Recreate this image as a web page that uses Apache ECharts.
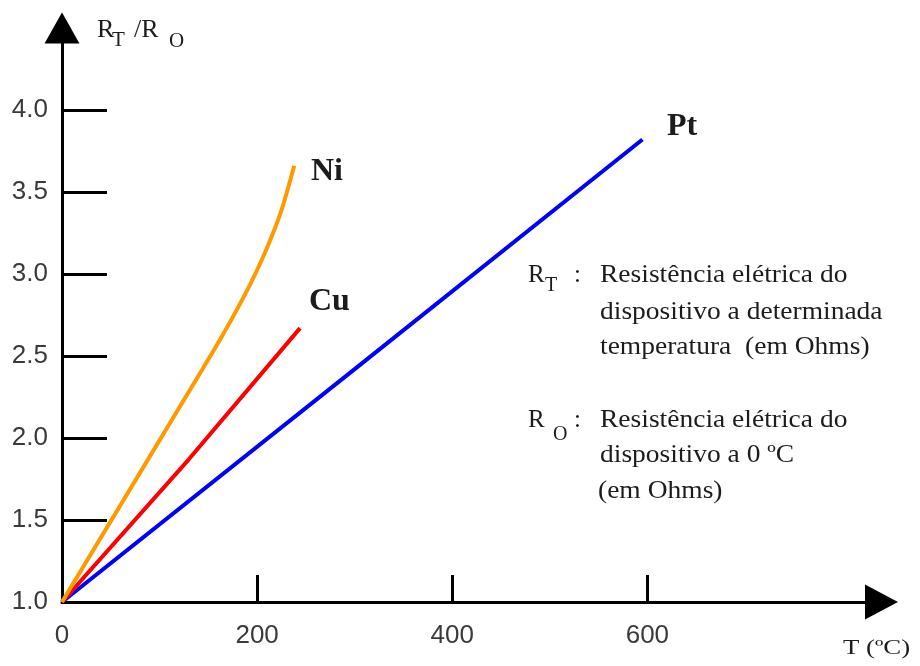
<!DOCTYPE html>
<html>
<head>
<meta charset="utf-8">
<script src="https://cdn.jsdelivr.net/npm/echarts@6/dist/echarts.min.js"></script>
<style>html,body{margin:0;padding:0;background:#fff}#c{width:920px;height:666px}</style>
</head>
<body>
<div id="c"></div>
<script>
// ---- data ----
const niT = [0, 143, 164, 188, 208, 225, 238];
const niR = [1.0, 2.41, 2.62, 2.88, 3.13, 3.39, 3.66];
const cuT = [0, 130, 244];
const cuR = [1.0, 1.87, 2.67];
const ptT = [0, 300, 595];
const ptR = [1.0, 2.42, 3.82];
const xLabelValues = [0, 200, 400, 600];
const xTickValues = [200, 400, 600];
const yLabelValues = [1.0, 1.5, 2.0, 2.5, 3.0, 3.5, 4.0];
const yTickValues = [1.5, 2.0, 2.5, 3.0, 3.5, 4.0];
const seriesNames = ['Pt', 'Cu', 'Ni'];

const pairs = (xs, ys) => xs.map((x, i) => [x, ys[i]]);

const chart = echarts.init(document.getElementById('c'), null, {renderer: 'canvas'});

const SERIF = '"Liberation Serif", "Times New Roman", serif';
const INK = '#1c1c1c';
function txt(x, baseline, text, size, opts) {
  opts = opts || {};
  return {
    type: 'text',
    x: x,
    y: baseline - 0.34 * size,
    scaleX: opts.scaleX || 1,
    silent: true,
    style: {
      text: text,
      x: 0, y: 0,
      font: (opts.bold ? 'bold ' : '') + size + 'px ' + SERIF,
      fill: opts.color || INK,
      textAlign: 'left',
      textVerticalAlign: 'middle'
    }
  };
}

const graphics = [
  // y-axis title R_T / R_O
  txt(97, 39, 'R', 26),
  txt(112, 48, 'T', 21),
  txt(134, 39, '/R', 26),
  txt(169, 49, 'O', 21),
  // x-axis title
  txt(843, 656, 'T (ºC)', 22, {scaleX: 1.22}),
  // curve names
  txt(311, 183, 'Ni', 32, {bold: true}),
  txt(309, 313, 'Cu', 32, {bold: true}),
  txt(667, 138, 'Pt', 32, {bold: true}),
  // explanation block 1
  txt(528, 284, 'R', 25),
  txt(545, 293, 'T', 20),
  txt(574, 284, ':', 25),
  txt(600, 284, 'Resistência elétrica do', 25, {scaleX: 1.1}),
  txt(600, 321, 'dispositivo a determinada', 25, {scaleX: 1.1}),
  txt(600, 356, 'temperatura  (em Ohms)', 25, {scaleX: 1.1}),
  // block 2
  txt(528, 429, 'R', 25),
  txt(553, 442, 'O', 20),
  txt(574, 429, ':', 25),
  txt(600, 429, 'Resistência elétrica do', 25, {scaleX: 1.1}),
  txt(600, 464, 'dispositivo a 0 ºC', 25, {scaleX: 1.1}),
  txt(598, 500, '(em Ohms)', 25, {scaleX: 1.1})
];

const lineSeries = (name, xs, ys, color, smooth) => ({
  name: name,
  type: 'line',
  data: pairs(xs, ys),
  showSymbol: false,
  smooth: smooth,
  clip: false,
  lineStyle: {color: color, width: 4},
  itemStyle: {color: color},
  animation: false
});

chart.setOption({
  backgroundColor: '#ffffff',
  animation: false,
  grid: {left: 62, right: 38.5, top: 28, bottom: 64, containLabel: false},
  xAxis: {
    type: 'value',
    min: 0, max: 840,
    splitLine: {show: false},
    axisLine: {show: true, onZero: false, symbol: ['none', 'triangle'], symbolSize: [35, 33],
      lineStyle: {color: '#000', width: 3}},
    axisTick: {show: true, inside: true, length: 27, customValues: xTickValues,
      lineStyle: {color: '#000', width: 3}},
    axisLabel: {show: true, customValues: xLabelValues, margin: 21,
      fontFamily: '"Liberation Sans", Arial, sans-serif', fontSize: 26, color: '#3a3a3a'}
  },
  yAxis: {
    type: 'value',
    min: 1.0, max: 4.5,
    splitLine: {show: false},
    axisLine: {show: true, onZero: false, symbol: ['none', 'triangle'], symbolSize: [35, 31],
      lineStyle: {color: '#000', width: 3}},
    axisTick: {show: true, inside: true, length: 45, customValues: yTickValues,
      lineStyle: {color: '#000', width: 3}},
    axisLabel: {show: true, customValues: yLabelValues, margin: 14,
      formatter: v => Number(v).toFixed(1),
      fontFamily: '"Liberation Sans", Arial, sans-serif', fontSize: 26, color: '#3a3a3a'}
  },
  series: [
    lineSeries(seriesNames[0], ptT, ptR, '#0000ff', false),
    lineSeries(seriesNames[1], cuT, cuR, '#ff0000', false),
    lineSeries(seriesNames[2], niT, niR, '#ff9900', 0.25)
  ],
  graphic: graphics
});
</script>
</body>
</html>
